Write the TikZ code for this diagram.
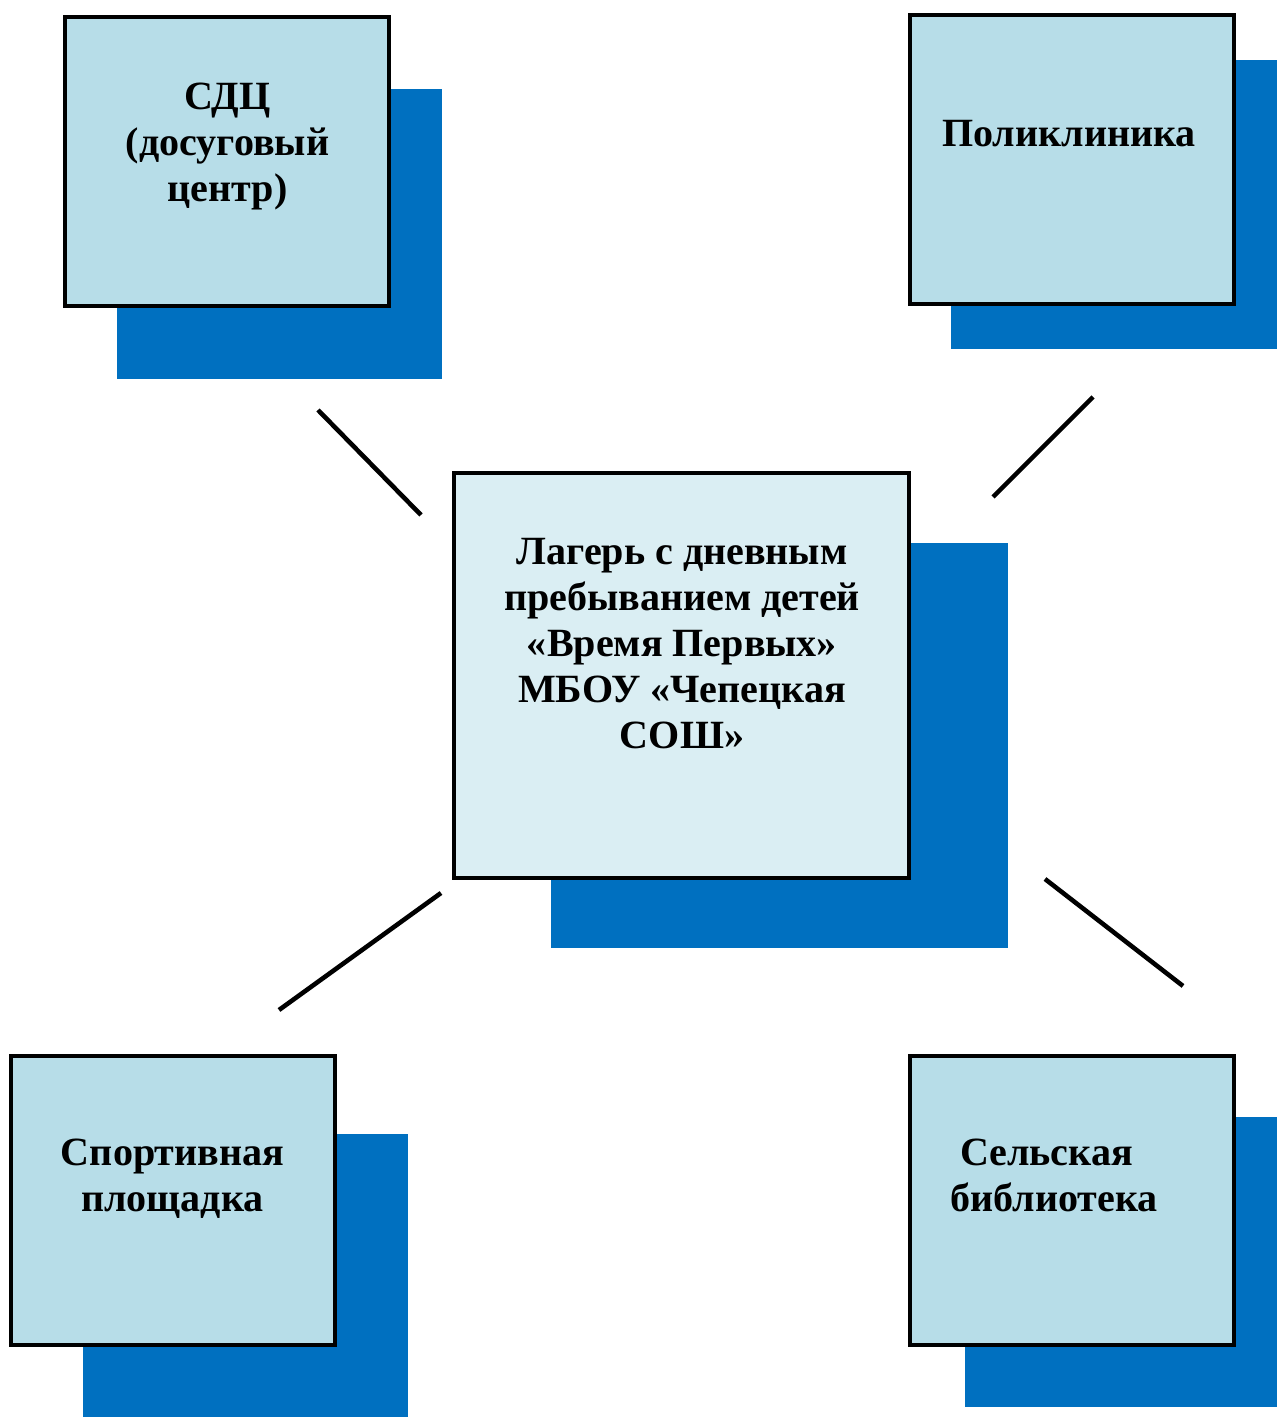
\documentclass[tikz,border=0pt]{standalone}
\usepackage{fontspec}
\setmainfont{Liberation Serif}
\usepackage{tikz}

\definecolor{shadowblue}{HTML}{0070C0}
\definecolor{boxblue}{HTML}{B7DDE8}
\definecolor{mainblue}{HTML}{DAEEF3}

\tikzset{
  shadowbox/.style={fill=shadowblue},
  frontbox/.style={fill=boxblue,draw=black,line width=1.9pt},
  label/.style={anchor=north,inner sep=0pt,align=center,
    font=\fontsize{22.8pt}{26.2pt}\selectfont\bfseries},
  link/.style={line width=2.6pt}
}

\begin{document}
\begin{tikzpicture}
\useasboundingbox (0,0) rectangle (25.54,28.34);

% shadows
\fill[shadowbox] (2.34,26.56) rectangle (8.84,20.76);
\fill[shadowbox] (19.02,27.14) rectangle (25.54,21.36);
\fill[shadowbox] (11.02,17.48) rectangle (20.16,9.38);
\fill[shadowbox] (1.66,5.66) rectangle (8.16,0);
\fill[shadowbox] (19.30,6.00) rectangle (25.54,0.20);

% boxes
\filldraw[frontbox] (1.30,28.00) rectangle (7.78,22.22);
\filldraw[frontbox] (18.20,28.04) rectangle (24.68,22.26);
\filldraw[frontbox,fill=mainblue] (9.08,18.88) rectangle (18.18,10.78);
\filldraw[frontbox] (0.22,7.22) rectangle (6.70,1.44);
\filldraw[frontbox] (18.20,7.22) rectangle (24.68,1.44);

\node[label] (sdc) at (4.55,26.80) {\strut СДЦ\\(досуговый\\центр)};
\node[label] (clinic) at (21.38,26.06) {\strut Поликлиника};
\node[label] (camp) at (13.64,17.70) {\strut Лагерь с дневным\\пребыванием детей\\«Время Первых»\\МБОУ «Чепецкая\\СОШ»};
\node[label] (sport) at (3.45,5.68) {\strut Спортивная\\площадка};
\node[label] (library) at (21.08,5.68) {\strut Сельская\hspace*{0.30cm}\\библиотека};

% links
\coordinate (tl1) at (6.36,20.14);
\coordinate (tl2) at (8.42,18.04);
\coordinate (tr1) at (21.86,20.40);
\coordinate (tr2) at (19.86,18.40);
\coordinate (bl1) at (8.82,10.48);
\coordinate (bl2) at (5.58,8.14);
\coordinate (br1) at (20.90,10.76);
\coordinate (br2) at (23.66,8.62);

\draw[link] (tl1) -- (tl2);
\draw[link] (tr1) -- (tr2);
\draw[link] (bl1) -- (bl2);
\draw[link] (br1) -- (br2);
\end{tikzpicture}
\end{document}
